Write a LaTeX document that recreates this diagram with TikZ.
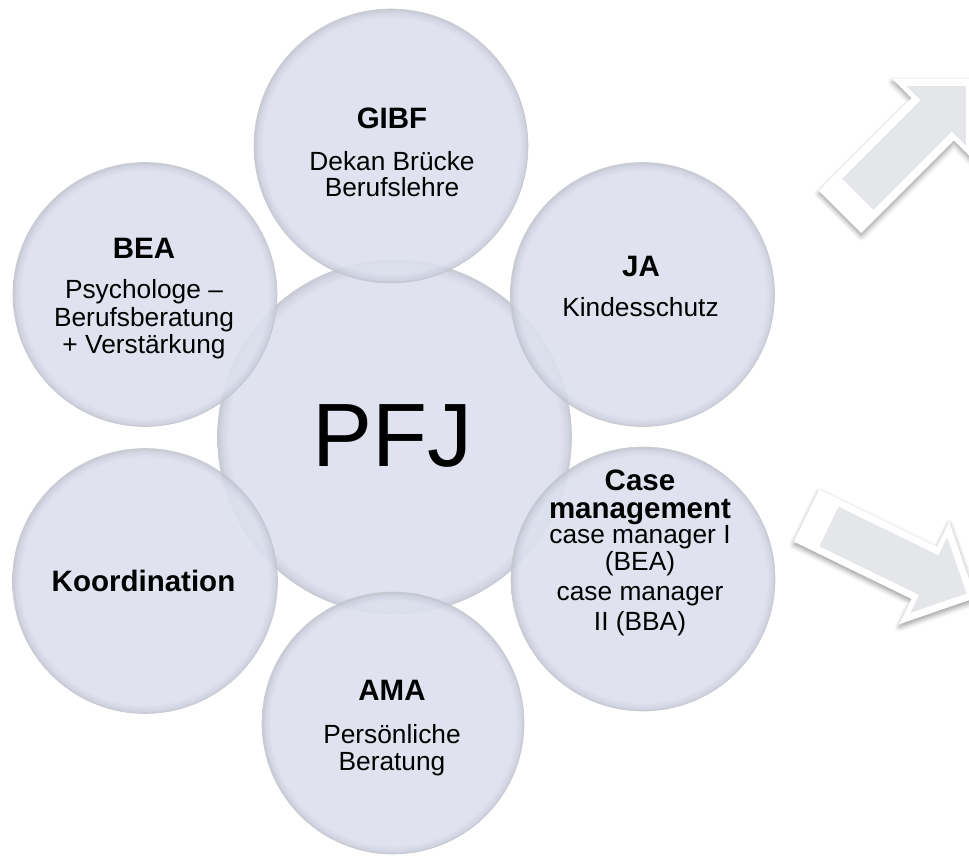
\documentclass[tikz,border=0pt]{standalone}
\usepackage{fontspec}
\setmainfont{Liberation Sans}
\usetikzlibrary{shadows.blur}
\definecolor{bubA}{RGB}{221,224,237}
\definecolor{bubB}{RGB}{205,208,222}
\definecolor{bubC}{RGB}{194,197,210}
\definecolor{bubEdge}{RGB}{198,199,206}
\definecolor{arrowgray}{RGB}{228,230,234}
\pgfdeclareradialshading{bubble}{\pgfpoint{0bp}{0bp}}{color(0bp)=(bubA); color(23.3bp)=(bubA); color(24.5bp)=(bubB); color(24.85bp)=(bubC); color(25bp)=(bubEdge); color(50bp)=(bubEdge)}
\begin{document}
\begin{tikzpicture}[x=1pt,y=-1pt,
  bub/.style={circle, inner sep=0pt, shade, shading=bubble, opacity=0.9, draw=bubEdge, line width=0.6pt},
  txt/.style={anchor=base, inner sep=0pt, font=\fontsize{26.3}{28}\selectfont},
  hd/.style={anchor=base, inner sep=0pt, font=\bfseries\fontsize{29.5}{30}\selectfont},
  bigtxt/.style={anchor=base, inner sep=0pt, font=\fontsize{90}{90}\selectfont},
  arrowouter/.style={fill=white, blur shadow={shadow xshift=0pt, shadow yshift=-3pt, shadow blur radius=5pt, shadow opacity=40}},
  arrowinner/.style={fill=arrowgray}]
\useasboundingbox (0,0) rectangle (969,855);
\clip (0,0) rectangle (969,855);

% block arrows on the right
\begin{scope}[shift={(857.7,194.3)}, rotate=45]
  \path[arrowouter] (-25,-30) -- (106,-30) -- (106,-57) -- (163,0) -- (106,57) -- (106,30) -- (-25,30) -- cycle;
  \path[arrowinner] (0,-22) -- (111,-22) -- (111,-42) -- (153,0) -- (111,42) -- (111,22) -- (0,22) -- cycle;
\end{scope}
\begin{scope}[shift={(829,526.5)}, rotate=-26]
  \path[arrowouter] (-25,-29) -- (106,-29) -- (106,-57) -- (163,0) -- (106,57) -- (106,29) -- (-25,29) -- cycle;
  \path[arrowinner] (0,-22) -- (111,-22) -- (111,-42) -- (153,0) -- (111,42) -- (111,22) -- (0,22) -- cycle;
\end{scope}

% bubbles
\node[bub, minimum size=354pt] (pfj) at (394.5,437) {};
\node[bub, minimum size=274pt] (gibf) at (391,146) {};
\node[bub, minimum size=264pt] (ja) at (642.5,294.5) {};
\node[bub, minimum size=264pt] (cm) at (643,579) {};
\node[bub, minimum size=262pt] (ama) at (393,723) {};
\node[bub, minimum size=265pt] (koord) at (145,581) {};
\node[bub, minimum size=264pt] (bea) at (145,294.5) {};

% texts
\node[bigtxt] (pfjT) at (392.5,466.7) {PFJ};

\node[hd]  (gibfH) at (392,128.3) {GIBF};
\node[txt] (gibf1) at (392,170) {Dekan Brücke};
\node[txt] (gibf2) at (392,196.7) {Berufslehre};

\node[hd]  (beaH) at (144,258.3) {BEA};
\node[txt] (bea1) at (144,298.3) {Psychologe –};
\node[txt] (bea2) at (144,326.7) {Berufsberatung};
\node[txt] (bea3) at (144,353.3) {+ Verstärkung};

\node[hd]  (jaH) at (641,276.7) {JA};
\node[txt] (ja1) at (640.5,316) {Kindesschutz};

\node[hd]  (koordH) at (143.5,591.7) {Koordination};

\node[hd]  (amaH) at (392,700.7) {AMA};
\node[txt] (ama1) at (392,743.3) {Persönliche};
\node[txt] (ama2) at (392,770) {Beratung};

\node[hd]  (cmH1) at (640,490) {Case};
\node[hd]  (cmH2) at (640,518.3) {management};
\node[txt] (cm1) at (640,543.3) {case manager I};
\node[txt] (cm2) at (640,570) {(BEA)};
\node[txt] (cm3) at (640,600) {case manager};
\node[txt] (cm4) at (640,630) {II (BBA)};
\end{tikzpicture}
\end{document}
